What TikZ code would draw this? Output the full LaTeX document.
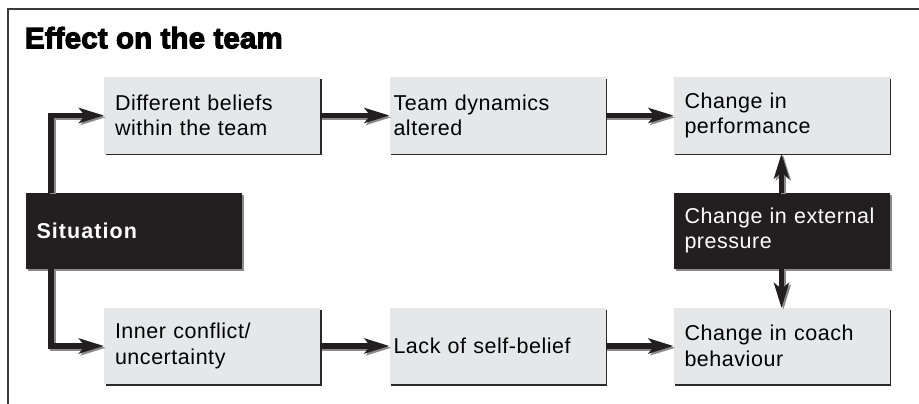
\documentclass[tikz,border=0pt]{standalone}
\usepackage{fontspec}
\setmainfont[LetterSpace=2.5]{Liberation Sans}
\newfontfamily\headfont[LetterSpace=0.5,BoldFeatures={FakeBold=3.5}]{Liberation Sans}
\usetikzlibrary{arrows.meta,calc,shadows}

\definecolor{boxgray}{HTML}{E6E7E8}
\definecolor{boxblack}{HTML}{231F20}
\definecolor{shadowdark}{HTML}{2A2A2A}
\definecolor{shadowlight}{HTML}{8A8A8A}
\definecolor{framegray}{HTML}{3A3A3A}

\begin{document}
\begin{tikzpicture}[x=1pt,y=-1pt,
  every node/.style={inner sep=0pt, outer sep=0pt},
  flowbox/.style={minimum width=216pt, minimum height=76pt, text width=194pt,
    inner xsep=11pt, align=left, font=\fontsize{21.5}{25.5}\selectfont},
  lightbox/.style={flowbox, fill=boxgray, text=black,
    drop shadow={shadow xshift=1.8pt, shadow yshift=-1.8pt, fill=shadowdark, opacity=1}},
  darkbox/.style={flowbox, fill=boxblack, text=white,
    drop shadow={shadow xshift=2.2pt, shadow yshift=-2.2pt, fill=shadowlight, opacity=1}},
  tightbox/.style={text width=208pt, inner xsep=4pt},
  flowline/.style={line width=5.5pt, -{Stealth[length=25pt, width=15pt, inset=6pt]}},
  lineshade/.style={flowline, draw=shadowlight, transform canvas={xshift=1.8pt, yshift=-1.8pt}},
  linemain/.style={flowline, draw=boxblack}
]
\useasboundingbox (0,0) rectangle (919,404);

% outer frame: top and left rules
\draw[line width=1.1pt, framegray] (8,404) -- (8,9) -- (919,9);

% heading
\node[anchor=base west, font=\headfont\bfseries\fontsize{29.5}{30}\selectfont] (title) at (25,48.3) {Effect on the team};

% top row
\node[lightbox] (b1) at (212,115.5) {Different beliefs\\within the team};
\node[lightbox, tightbox] (b2) at (497.5,115.5) {Team dynamics\\altered};
\node[lightbox] (b3) at (781.5,115.5) {Change in\\performance};

% middle row
\node[darkbox, font=\fontsize{21.5}{25.5}\selectfont\bfseries\addfontfeatures{LetterSpace=5}] (sit) at (133.5,230.5) {Situation};
\node[darkbox] (ext) at (781.5,230.5) {Change in external\\pressure};

% bottom row
\node[lightbox] (b4) at (212,346) {Inner conflict/\\uncertainty};
\node[lightbox, tightbox] (b5) at (497.5,346) {Lack of self-belief};
\node[lightbox] (b6) at (781.5,346) {Change in coach\\behaviour};

% connectors: grey offset shade first, then the black line on top
\foreach \s in {lineshade, linemain}{
  \draw[\s] ($(sit.north west)+(25.5,0)$) |- (b1.west);
  \draw[\s] ($(sit.south west)+(25.5,0)$) |- (b4.west);
  \draw[\s] (b1.east) -- (b2.west);
  \draw[\s] (b2.east) -- (b3.west);
  \draw[\s] (b4.east) -- (b5.west);
  \draw[\s] (b5.east) -- (b6.west);
  \draw[\s] (ext.north) -- (b3.south);
  \draw[\s] (ext.south) -- (b6.north);
}
\end{tikzpicture}
\end{document}
